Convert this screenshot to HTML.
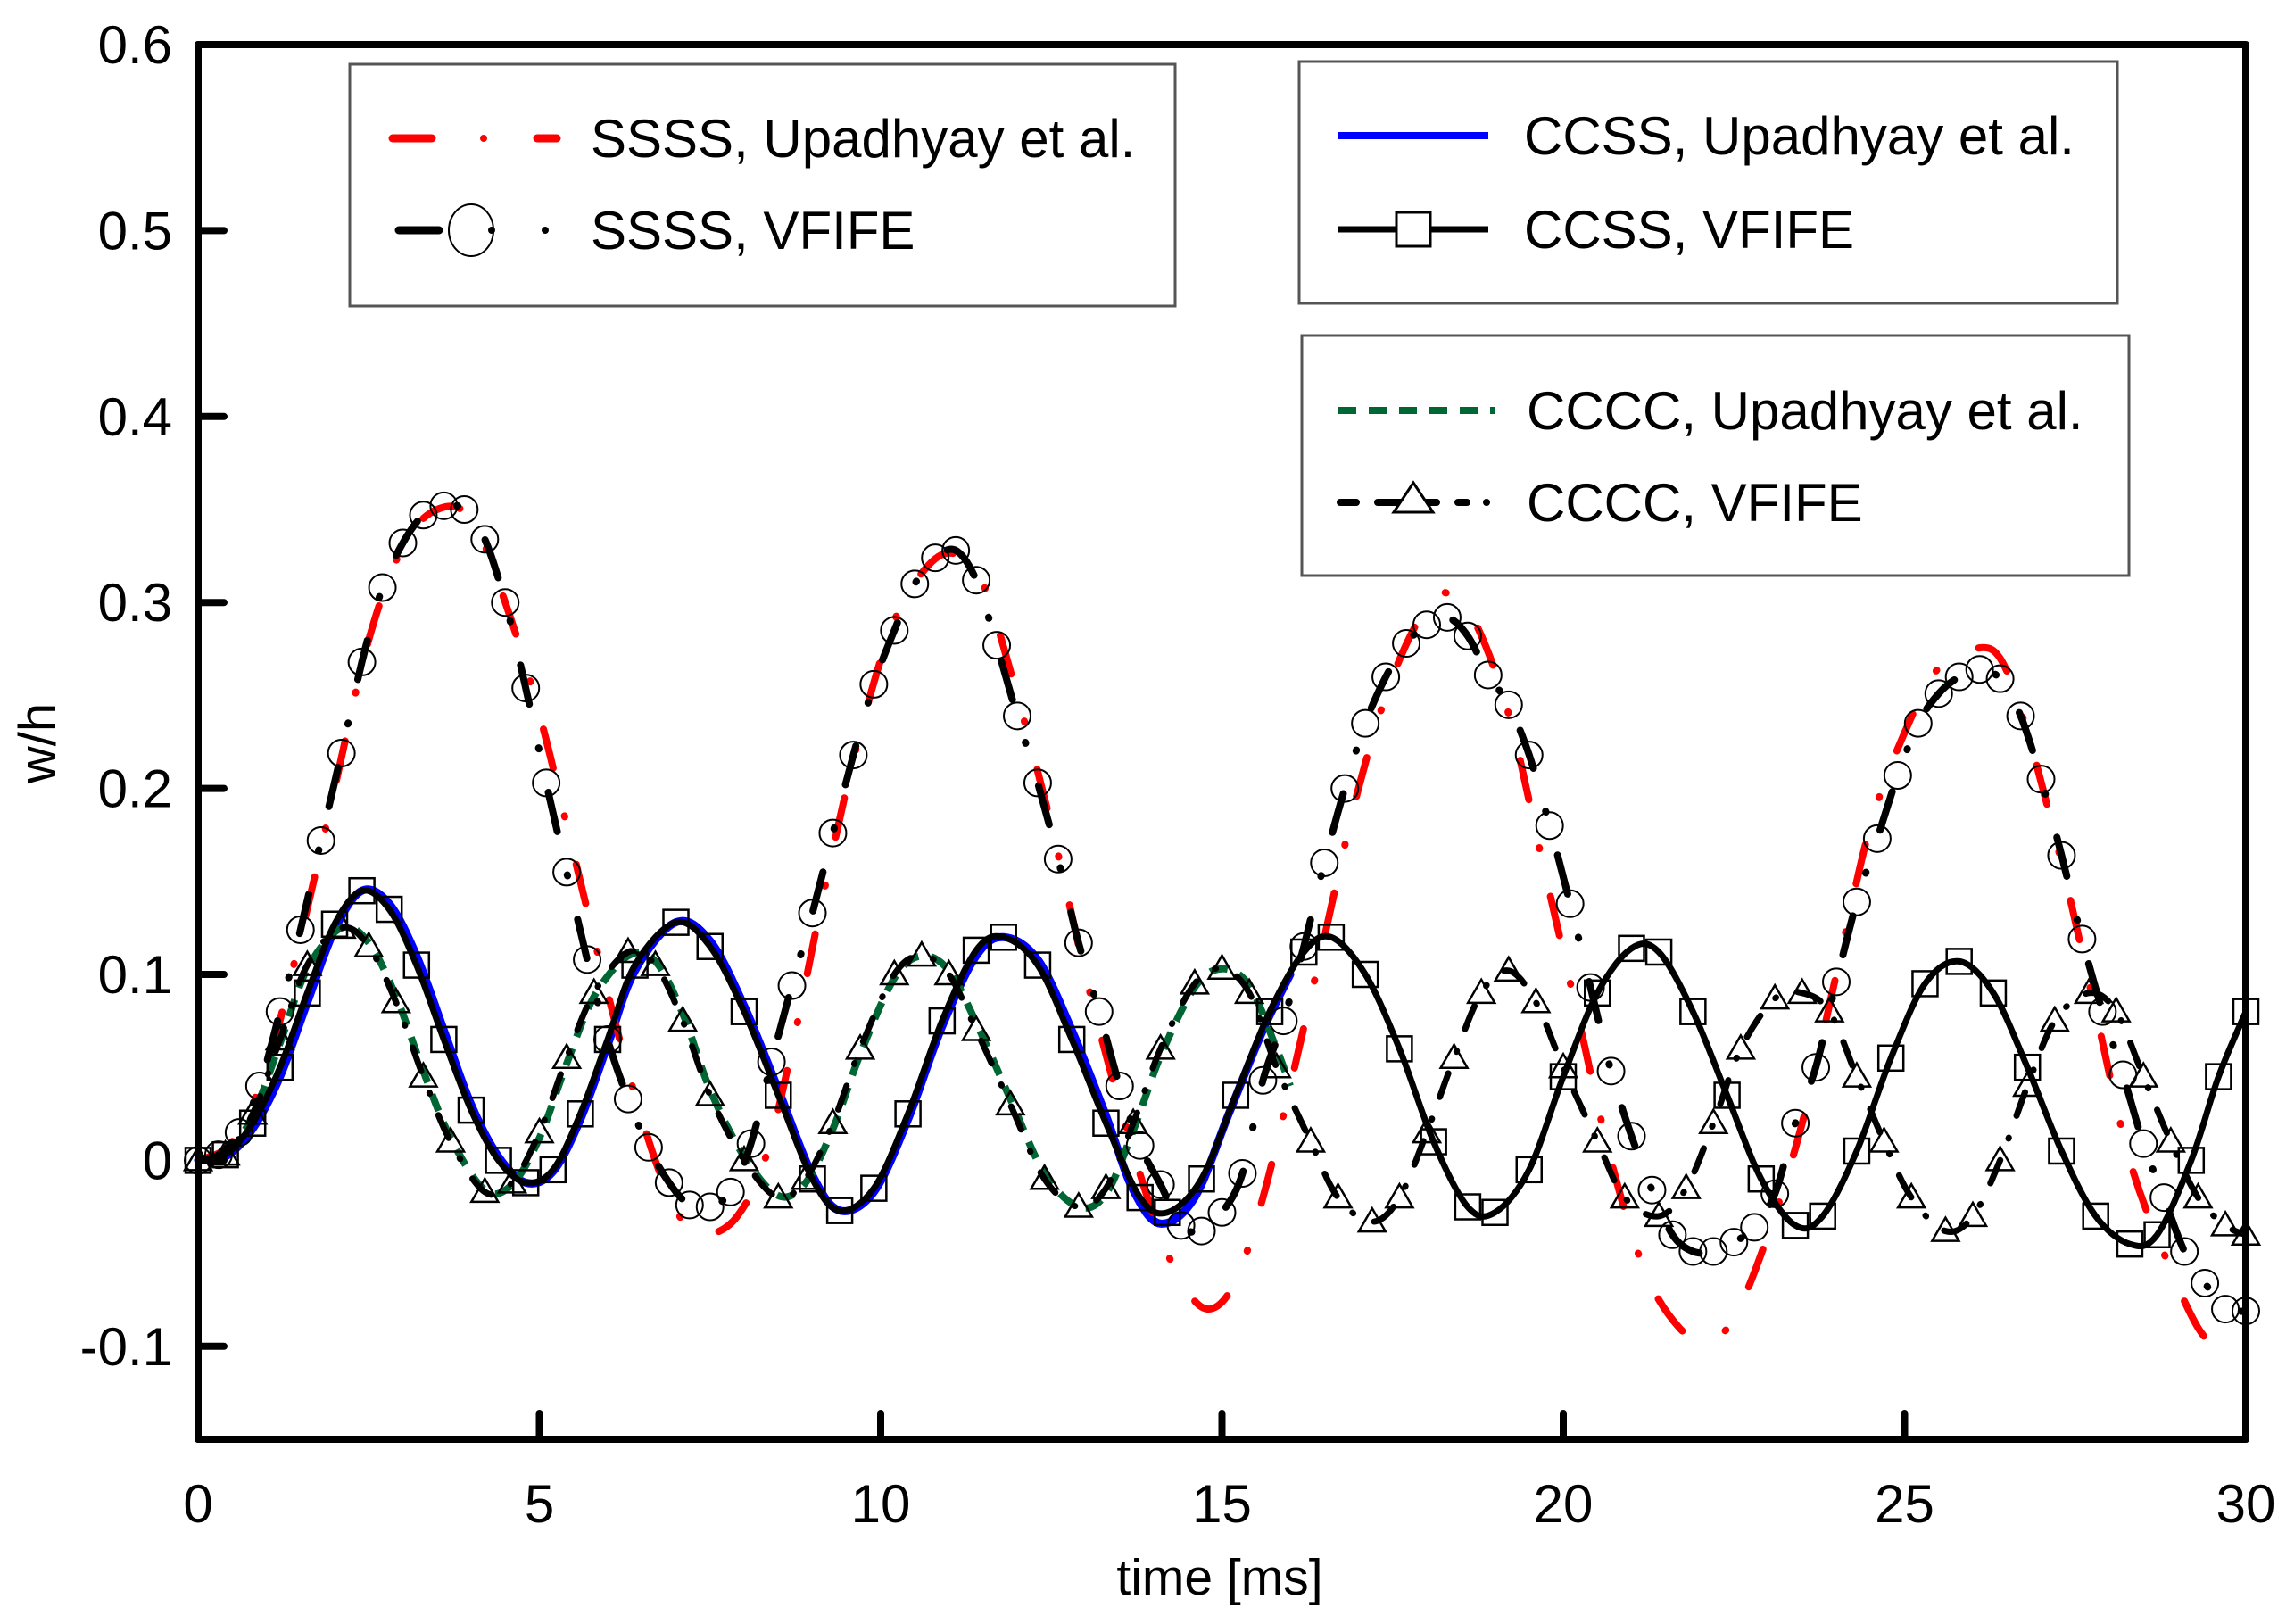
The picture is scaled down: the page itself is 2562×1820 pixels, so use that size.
<!DOCTYPE html>
<html><head><meta charset="utf-8"><style>
html,body{margin:0;padding:0;background:#fff;}
svg{display:block;font-family:"Liberation Sans",sans-serif;}
</style></head><body>
<svg id="chart" width="2562" height="1820" viewBox="0 0 2562 1820" xmlns="http://www.w3.org/2000/svg">
<rect x="0" y="0" width="2562" height="1820" fill="#fff"/>
<g id="series"></g>
<g id="axes"></g>
<g id="legends"></g>
</svg>
<script>
const xTicks=[0,5,10,15,20,25,30];
const yTicks=[-0.1,0,0.1,0.2,0.3,0.4,0.5,0.6];
const yTickLabels=["-0.1","0","0.1","0.2","0.3","0.4","0.5","0.6"];
// SSSS Upadhyay (red)
const ssssUpT=[0,0.5,1.0,1.5,2.0,2.5,3.0,3.5,4.0,4.5,5.0,5.5,6.0,6.4,6.8,7.2,7.5,7.9,8.3,8.7,9.2,9.7,10.2,10.7,11.1,11.5,12.0,12.5,13.0,13.5,14.0,14.4,14.8,15.2,15.6,16.0,16.5,17.0,17.5,18.0,18.3,18.7,19.2,19.7,20.2,20.7,21.2,21.7,22.1,22.5,23.0,23.5,24.0,24.5,25.0,25.5,26.0,26.4,26.8,27.3,27.8,28.3,28.8,29.3,29.7];
const ssssUpV=[0,0.01,0.05,0.12,0.2,0.28,0.33,0.35,0.345,0.3,0.24,0.165,0.09,0.035,-0.01,-0.038,-0.04,-0.03,0.0,0.06,0.15,0.23,0.29,0.32,0.326,0.31,0.25,0.18,0.1,0.03,-0.03,-0.065,-0.08,-0.065,-0.02,0.04,0.12,0.2,0.26,0.298,0.305,0.29,0.24,0.16,0.08,0.0,-0.06,-0.09,-0.097,-0.085,-0.04,0.02,0.1,0.18,0.23,0.265,0.275,0.27,0.23,0.16,0.08,0.0,-0.05,-0.09,-0.105];
// SSSS VFIFE (circles)
const ssssVfT=[0,0.3,0.6,0.9,1.2,1.5,1.8,2.1,2.4,2.7,3.0,3.3,3.6,3.9,4.2,4.5,4.8,5.1,5.4,5.7,6.0,6.3,6.6,6.9,7.2,7.5,7.8,8.1,8.4,8.7,9.0,9.3,9.6,9.9,10.2,10.5,10.8,11.1,11.4,11.7,12.0,12.3,12.6,12.9,13.2,13.5,13.8,14.1,14.4,14.7,15.0,15.3,15.6,15.9,16.2,16.5,16.8,17.1,17.4,17.7,18.0,18.3,18.6,18.9,19.2,19.5,19.8,20.1,20.4,20.7,21.0,21.3,21.6,21.9,22.2,22.5,22.8,23.1,23.4,23.7,24.0,24.3,24.6,24.9,25.2,25.5,25.8,26.1,26.4,26.7,27.0,27.3,27.6,27.9,28.2,28.5,28.8,29.1,29.4,29.7,30];
const ssssVfV=[0,0.003,0.015,0.04,0.08,0.124,0.172,0.219,0.268,0.308,0.332,0.347,0.352,0.35,0.334,0.30,0.254,0.203,0.155,0.108,0.065,0.033,0.007,-0.012,-0.024,-0.025,-0.017,0.009,0.053,0.094,0.133,0.176,0.218,0.256,0.285,0.31,0.324,0.328,0.312,0.277,0.239,0.203,0.162,0.117,0.08,0.04,0.008,-0.013,-0.035,-0.038,-0.028,-0.007,0.043,0.075,0.115,0.16,0.2,0.235,0.26,0.278,0.288,0.292,0.282,0.261,0.245,0.218,0.18,0.138,0.093,0.048,0.013,-0.016,-0.04,-0.049,-0.049,-0.044,-0.036,-0.018,0.02,0.05,0.096,0.139,0.173,0.207,0.235,0.251,0.26,0.264,0.259,0.239,0.205,0.164,0.119,0.08,0.046,0.009,-0.02,-0.049,-0.066,-0.08,-0.081];
// CCSS VFIFE (squares) & Upadhyay (blue)
const ccssT=[0,0.4,0.8,1.2,1.6,2.0,2.4,2.8,3.2,3.6,4.0,4.4,4.8,5.2,5.6,6.0,6.4,7.0,7.5,8.0,8.5,9.0,9.4,9.9,10.4,10.9,11.4,11.8,12.3,12.8,13.3,13.8,14.2,14.7,15.2,15.7,16.2,16.6,17.1,17.6,18.1,18.6,19.0,19.5,20.0,20.5,21.0,21.4,21.9,22.4,22.9,23.4,23.8,24.3,24.8,25.3,25.8,26.3,26.8,27.3,27.8,28.3,28.7,29.2,29.6,30];
const ccssVfV=[0,0.003,0.02,0.05,0.09,0.127,0.145,0.135,0.105,0.065,0.027,0.0,-0.012,-0.005,0.025,0.065,0.105,0.128,0.115,0.08,0.035,-0.01,-0.027,-0.015,0.025,0.075,0.113,0.12,0.105,0.065,0.02,-0.02,-0.028,-0.01,0.035,0.08,0.112,0.12,0.1,0.06,0.01,-0.025,-0.028,-0.005,0.045,0.09,0.114,0.112,0.08,0.035,-0.01,-0.035,-0.03,0.005,0.055,0.095,0.107,0.09,0.05,0.005,-0.03,-0.045,-0.04,0.0,0.045,0.08];
const ccssUpT=[0,0.4,0.8,1.2,1.6,2.0,2.4,2.8,3.2,3.6,4.0,4.4,4.8,5.2,5.6,6.0,6.4,7.0,7.5,8.0,8.5,9.0,9.4,9.9,10.4,10.9,11.4,11.8,12.3,12.8,13.3,13.7,14.1,14.6,15.1,15.6,16.0];
const ccssUpV=[0,0.002,0.017,0.045,0.085,0.124,0.145,0.138,0.11,0.07,0.03,0.002,-0.012,-0.006,0.022,0.062,0.102,0.128,0.118,0.083,0.038,-0.008,-0.027,-0.017,0.022,0.072,0.11,0.12,0.108,0.07,0.024,-0.016,-0.034,-0.02,0.025,0.07,0.1];
// CCCC VFIFE (triangles) & Upadhyay (green)
const ccccT=[0,0.4,0.8,1.2,1.6,2.1,2.5,2.9,3.3,3.7,4.2,4.6,5.0,5.4,5.8,6.3,6.7,7.1,7.5,8.0,8.5,8.9,9.3,9.7,10.2,10.6,11.0,11.4,11.9,12.4,12.9,13.3,13.7,14.1,14.6,15.0,15.4,15.8,16.3,16.7,17.2,17.6,18.0,18.4,18.8,19.2,19.6,20.0,20.5,20.9,21.4,21.8,22.2,22.6,23.1,23.5,23.9,24.3,24.7,25.1,25.6,26.0,26.4,26.8,27.2,27.7,28.1,28.5,28.9,29.3,29.7,30];
const ccccVfV=[0,0.003,0.025,0.065,0.105,0.125,0.115,0.085,0.045,0.01,-0.017,-0.012,0.015,0.055,0.09,0.112,0.105,0.075,0.035,0.0,-0.02,-0.01,0.02,0.06,0.1,0.11,0.1,0.07,0.03,-0.01,-0.025,-0.015,0.02,0.06,0.095,0.103,0.09,0.05,0.01,-0.02,-0.033,-0.02,0.015,0.055,0.09,0.102,0.085,0.05,0.01,-0.02,-0.03,-0.015,0.02,0.06,0.087,0.09,0.08,0.045,0.01,-0.02,-0.038,-0.03,0.0,0.04,0.075,0.09,0.08,0.045,0.01,-0.02,-0.035,-0.04];
const ccccUpT=[0,0.4,0.8,1.2,1.6,2.1,2.5,2.9,3.3,3.7,4.2,4.6,5.0,5.4,5.8,6.3,6.7,7.1,7.5,8.0,8.5,8.9,9.3,9.7,10.2,10.6,11.0,11.4,11.9,12.4,12.9,13.3,13.7,14.1,14.6,15.0,15.4,15.8,16.0];
const ccccUpV=[0,0.003,0.024,0.063,0.103,0.125,0.117,0.088,0.048,0.012,-0.016,-0.013,0.012,0.052,0.088,0.11,0.107,0.079,0.038,0.002,-0.019,-0.012,0.017,0.057,0.098,0.11,0.102,0.074,0.033,-0.007,-0.025,-0.018,0.016,0.056,0.093,0.103,0.094,0.06,0.04];

const X0=222,X1=2517,Y0=50,Y1=1613;
const xMin=0,xMax=30,yMin=-0.15,yMax=0.6;
function sx(t){return X0+(t-xMin)/(xMax-xMin)*(X1-X0);}
function sy(v){return Y1-(v-yMin)/(yMax-yMin)*(Y1-Y0);}
const NS="http://www.w3.org/2000/svg";
function mk(tag,attrs,parent){const e=document.createElementNS(NS,tag);for(const k in attrs)e.setAttribute(k,attrs[k]);parent.appendChild(e);return e;}
function pathD(T,V){
  const p=T.map((t,i)=>[sx(t),sy(V[i])]);
  let d="M"+p[0][0].toFixed(1)+","+p[0][1].toFixed(1);
  for(let i=0;i<p.length-1;i++){
    const a=p[Math.max(0,i-1)],b=p[i],c=p[i+1],e=p[Math.min(p.length-1,i+2)];
    const c1=[b[0]+(c[0]-a[0])/6,b[1]+(c[1]-a[1])/6],c2=[c[0]-(e[0]-b[0])/6,c[1]-(e[1]-b[1])/6];
    d+=" C"+c1[0].toFixed(1)+","+c1[1].toFixed(1)+" "+c2[0].toFixed(1)+","+c2[1].toFixed(1)+" "+c[0].toFixed(1)+","+c[1].toFixed(1);
  }
  return d;
}
const sg=document.getElementById("series");
let e;
e=mk("path",{d:pathD(ccssUpT,ccssUpV),fill:"none",stroke:"#0000ff","stroke-width":9,"stroke-linecap":"round"},sg);


e=mk("path",{d:pathD(ccccUpT,ccccUpV),fill:"none",stroke:"#006633","stroke-width":8,"stroke-dasharray":"20 14"},sg);


e=mk("path",{d:pathD(ssssUpT,ssssUpV),fill:"none",stroke:"#ff0000","stroke-width":8,"stroke-linecap":"round","stroke-dasharray":"45 55 1 55"},sg);


e=mk("path",{d:pathD(ssssVfT,ssssVfV),fill:"none",stroke:"#000","stroke-width":8,"stroke-linecap":"round","stroke-dasharray":"45 50 1 50"},sg);


e=mk("path",{d:pathD(ccssT,ccssVfV),fill:"none",stroke:"#000","stroke-width":7},sg);


e=mk("path",{d:pathD(ccccT,ccccVfV),fill:"none",stroke:"#000","stroke-width":7,"stroke-linecap":"round","stroke-dasharray":"28 26 1 26"},sg);


ssssVfT.forEach((t,i)=>{
  const c=mk("circle",{cx:sx(t),cy:sy(ssssVfV[i]),r:15,fill:"none",stroke:"#000","stroke-width":2},sg);
  
  
});
ccssT.forEach((t,i)=>{
  const r=mk("rect",{x:sx(t)-14,y:sy(ccssVfV[i])-14,width:28,height:28,fill:"none",stroke:"#000","stroke-width":2.5},sg);
  
  
});
ccccT.forEach((t,i)=>{
  const x=sx(t),y=sy(ccccVfV[i]);
  const p=mk("polygon",{points:(x)+","+(y-15)+" "+(x-15)+","+(y+11)+" "+(x+15)+","+(y+11),fill:"none",stroke:"#000","stroke-width":2.5},sg);
  
  
});
// axes
const ag=document.getElementById("axes");
e=mk("rect",{x:X0,y:Y0,width:X1-X0,height:Y1-Y0,fill:"none",stroke:"#000","stroke-width":8,"stroke-linejoin":"round"},ag);


yTicks.forEach((v,i)=>{
  const y=sy(v);
  const l=mk("line",{x1:X0,x2:X0+29,y1:y,y2:y,stroke:"#000","stroke-width":8,"stroke-linecap":"round"},ag);
  
  
  const t=mk("text",{x:193,y:y+21,"text-anchor":"end","font-size":60,fill:"#000"},ag);
  t.textContent=yTickLabels[i];
  
  
});
xTicks.forEach(v=>{
  const x=sx(v);
  const l=mk("line",{x1:x,x2:x,y1:Y1,y2:Y1-29,stroke:"#000","stroke-width":8,"stroke-linecap":"round"},ag);
  
  
  const t=mk("text",{x:x,y:1706,"text-anchor":"middle","font-size":60,fill:"#000"},ag);
  t.textContent=String(v);
  
  
});
e=mk("text",{x:1367,y:1787,"text-anchor":"middle","font-size":57,fill:"#000"},ag);
e.textContent="time [ms]";


e=mk("text",{x:62,y:833,"text-anchor":"middle","font-size":58,fill:"#000",transform:"rotate(-90 62 833)"},ag);
e.textContent="w/h";


// legends
const lg=document.getElementById("legends");
function box(x,y,w,h,name){const r=mk("rect",{x:x,y:y,width:w,height:h,fill:"#fff",stroke:"#555","stroke-width":3},lg);}
function label(x,y,txt,name){const t=mk("text",{x:x,y:y+21,"font-size":60,fill:"#000"},lg);t.textContent=txt;}
box(392,72,925,271,'legend-ssss');
box(1456,69,917,271,'legend-ccss');
box(1459,376,927,269,'legend-cccc');
mk("line",{x1:440,x2:484,y1:155,y2:155,stroke:"#f00","stroke-width":9,"stroke-linecap":"round"},lg);
mk("circle",{cx:542,cy:155,r:4,fill:"#f00"},lg);
mk("line",{x1:602,x2:624,y1:155,y2:155,stroke:"#f00","stroke-width":9,"stroke-linecap":"round"},lg);
label(662,155,"SSSS, Upadhyay et al.",'legend-entry-ssss-upadhyay');
mk("line",{x1:447,x2:492,y1:258,y2:258,stroke:"#000","stroke-width":9,"stroke-linecap":"round"},lg);
mk("ellipse",{cx:528,cy:258,rx:25,ry:29,fill:"none",stroke:"#000","stroke-width":2},lg);
mk("circle",{cx:551,cy:258,r:4,fill:"#000"},lg);
mk("circle",{cx:611,cy:258,r:4,fill:"#000"},lg);
label(662,258,"SSSS, VFIFE",'legend-entry-ssss-vfife');
mk("line",{x1:1500,x2:1668,y1:152,y2:152,stroke:"#00f","stroke-width":8},lg);
label(1708,152,"CCSS, Upadhyay et al.",'legend-entry-ccss-upadhyay');
mk("line",{x1:1500,x2:1668,y1:257,y2:257,stroke:"#000","stroke-width":7},lg);
mk("rect",{x:1565,y:238,width:38,height:38,fill:"#fff",stroke:"#000","stroke-width":3},lg);
label(1708,257,"CCSS, VFIFE",'legend-entry-ccss-vfife');
mk("line",{x1:1500,x2:1675,y1:460,y2:460,stroke:"#006633","stroke-width":8,"stroke-dasharray":"20 14"},lg);
label(1711,460,"CCCC, Upadhyay et al.",'legend-entry-cccc-upadhyay');
mk("line",{x1:1502,x2:1520,y1:563,y2:563,stroke:"#000","stroke-width":8,"stroke-linecap":"round"},lg);
mk("line",{x1:1544,x2:1610,y1:563,y2:563,stroke:"#000","stroke-width":8,"stroke-linecap":"round"},lg);
mk("polygon",{points:"1584,541 1562,574 1606,574",fill:"#fff",stroke:"#000","stroke-width":3},lg);
mk("line",{x1:1634,x2:1644,y1:563,y2:563,stroke:"#000","stroke-width":8,"stroke-linecap":"round"},lg);
mk("circle",{cx:1666,cy:563,r:4,fill:"#000"},lg);
label(1711,563,"CCCC, VFIFE",'legend-entry-cccc-vfife');
</script>
</body></html>
